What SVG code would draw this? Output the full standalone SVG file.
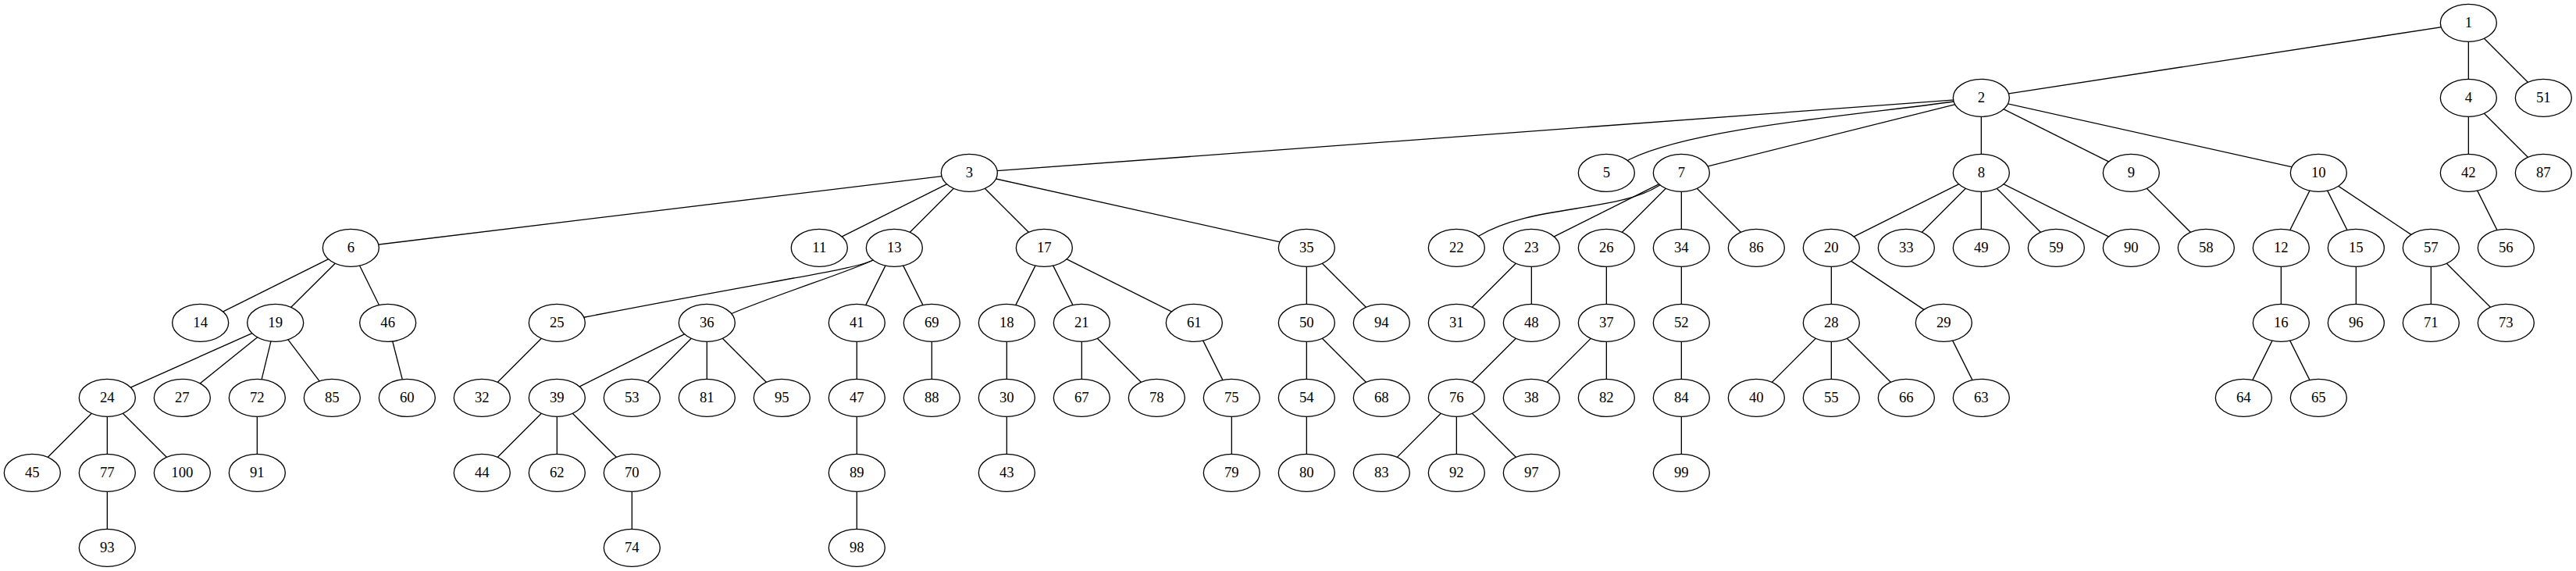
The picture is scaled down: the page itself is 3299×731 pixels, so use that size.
<svg xmlns="http://www.w3.org/2000/svg" width="3299" height="731" viewBox="0 0 3299 731">
<style>
.bg{fill:#fff}
.e line,.e path{stroke:#000;stroke-width:1.33;fill:none}
.n ellipse{fill:#fff;stroke:#000;stroke-width:1.33}
.n text{font-family:"Liberation Serif","Times New Roman",serif;font-size:18.67px;text-anchor:middle;fill:#000}
</style>
<rect class="bg" x="0" y="0" width="3299" height="731"/>
<g id="edges" class="e">
<line x1="3161.33" y1="29.33" x2="2537.33" y2="125.33"/>
<line x1="3161.33" y1="29.33" x2="3161.33" y2="125.33"/>
<line x1="3161.33" y1="29.33" x2="3257.33" y2="125.33"/>
<line x1="2537.33" y1="125.33" x2="1241.33" y2="221.33"/>
<path d="M2537.33,125.33 L2502,130 C2390,146 2170,163 2087,204 L2057.33,221.33"/>
<line x1="2537.33" y1="125.33" x2="2153.33" y2="221.33"/>
<line x1="2537.33" y1="125.33" x2="2537.33" y2="221.33"/>
<line x1="2537.33" y1="125.33" x2="2729.33" y2="221.33"/>
<line x1="2537.33" y1="125.33" x2="2969.33" y2="221.33"/>
<line x1="3161.33" y1="125.33" x2="3161.33" y2="221.33"/>
<line x1="3161.33" y1="125.33" x2="3257.33" y2="221.33"/>
<line x1="1241.33" y1="221.33" x2="449.33" y2="317.33"/>
<line x1="1241.33" y1="221.33" x2="1049.33" y2="317.33"/>
<line x1="1241.33" y1="221.33" x2="1145.33" y2="317.33"/>
<line x1="1241.33" y1="221.33" x2="1337.33" y2="317.33"/>
<line x1="1241.33" y1="221.33" x2="1673.33" y2="317.33"/>
<path d="M2153.33,221.33 L2124,238 C2070,272 1960,262 1894,302 L1865.33,317.33"/>
<line x1="2153.33" y1="221.33" x2="1961.33" y2="317.33"/>
<line x1="2153.33" y1="221.33" x2="2057.33" y2="317.33"/>
<line x1="2153.33" y1="221.33" x2="2153.33" y2="317.33"/>
<line x1="2153.33" y1="221.33" x2="2249.33" y2="317.33"/>
<line x1="2537.33" y1="221.33" x2="2345.33" y2="317.33"/>
<line x1="2537.33" y1="221.33" x2="2441.33" y2="317.33"/>
<line x1="2537.33" y1="221.33" x2="2537.33" y2="317.33"/>
<line x1="2537.33" y1="221.33" x2="2633.33" y2="317.33"/>
<line x1="2537.33" y1="221.33" x2="2729.33" y2="317.33"/>
<line x1="2729.33" y1="221.33" x2="2825.33" y2="317.33"/>
<line x1="2969.33" y1="221.33" x2="2921.33" y2="317.33"/>
<line x1="2969.33" y1="221.33" x2="3017.33" y2="317.33"/>
<line x1="2969.33" y1="221.33" x2="3113.33" y2="317.33"/>
<line x1="3161.33" y1="221.33" x2="3209.33" y2="317.33"/>
<line x1="449.33" y1="317.33" x2="256.67" y2="413.33"/>
<line x1="449.33" y1="317.33" x2="352.67" y2="413.33"/>
<line x1="449.33" y1="317.33" x2="496.67" y2="413.33"/>
<path d="M1145.33,317.33 L1118,333 C1095,345 1000,357 749,406 L713.33,413.33"/>
<path d="M1145.33,317.33 L1118,333 C1090,347 1000,375 938,401 L905.33,413.33"/>
<line x1="1145.33" y1="317.33" x2="1097.33" y2="413.33"/>
<line x1="1145.33" y1="317.33" x2="1193.33" y2="413.33"/>
<line x1="1337.33" y1="317.33" x2="1289.33" y2="413.33"/>
<line x1="1337.33" y1="317.33" x2="1385.33" y2="413.33"/>
<line x1="1337.33" y1="317.33" x2="1529.33" y2="413.33"/>
<line x1="1673.33" y1="317.33" x2="1673.33" y2="413.33"/>
<line x1="1673.33" y1="317.33" x2="1769.33" y2="413.33"/>
<line x1="1961.33" y1="317.33" x2="1865.33" y2="413.33"/>
<line x1="1961.33" y1="317.33" x2="1961.33" y2="413.33"/>
<line x1="2057.33" y1="317.33" x2="2057.33" y2="413.33"/>
<line x1="2153.33" y1="317.33" x2="2153.33" y2="413.33"/>
<line x1="2345.33" y1="317.33" x2="2345.33" y2="413.33"/>
<line x1="2345.33" y1="317.33" x2="2489.33" y2="413.33"/>
<line x1="2921.33" y1="317.33" x2="2921.33" y2="413.33"/>
<line x1="3017.33" y1="317.33" x2="3017.33" y2="413.33"/>
<line x1="3113.33" y1="317.33" x2="3113.33" y2="413.33"/>
<line x1="3113.33" y1="317.33" x2="3209.33" y2="413.33"/>
<line x1="352.67" y1="413.33" x2="137.33" y2="509.33"/>
<line x1="352.67" y1="413.33" x2="233.33" y2="509.33"/>
<line x1="352.67" y1="413.33" x2="329.33" y2="509.33"/>
<line x1="352.67" y1="413.33" x2="425.33" y2="509.33"/>
<line x1="496.67" y1="413.33" x2="521.33" y2="509.33"/>
<line x1="713.33" y1="413.33" x2="617.33" y2="509.33"/>
<line x1="905.33" y1="413.33" x2="713.33" y2="509.33"/>
<line x1="905.33" y1="413.33" x2="809.33" y2="509.33"/>
<line x1="905.33" y1="413.33" x2="905.33" y2="509.33"/>
<line x1="905.33" y1="413.33" x2="1001.33" y2="509.33"/>
<line x1="1097.33" y1="413.33" x2="1097.33" y2="509.33"/>
<line x1="1193.33" y1="413.33" x2="1193.33" y2="509.33"/>
<line x1="1289.33" y1="413.33" x2="1289.33" y2="509.33"/>
<line x1="1385.33" y1="413.33" x2="1385.33" y2="509.33"/>
<line x1="1385.33" y1="413.33" x2="1481.33" y2="509.33"/>
<line x1="1529.33" y1="413.33" x2="1577.33" y2="509.33"/>
<line x1="1673.33" y1="413.33" x2="1673.33" y2="509.33"/>
<line x1="1673.33" y1="413.33" x2="1769.33" y2="509.33"/>
<line x1="1961.33" y1="413.33" x2="1865.33" y2="509.33"/>
<line x1="2057.33" y1="413.33" x2="1961.33" y2="509.33"/>
<line x1="2057.33" y1="413.33" x2="2057.33" y2="509.33"/>
<line x1="2153.33" y1="413.33" x2="2153.33" y2="509.33"/>
<line x1="2345.33" y1="413.33" x2="2249.33" y2="509.33"/>
<line x1="2345.33" y1="413.33" x2="2345.33" y2="509.33"/>
<line x1="2345.33" y1="413.33" x2="2441.33" y2="509.33"/>
<line x1="2489.33" y1="413.33" x2="2537.33" y2="509.33"/>
<line x1="2921.33" y1="413.33" x2="2873.33" y2="509.33"/>
<line x1="2921.33" y1="413.33" x2="2969.33" y2="509.33"/>
<line x1="137.33" y1="509.33" x2="41.33" y2="605.33"/>
<line x1="137.33" y1="509.33" x2="137.33" y2="605.33"/>
<line x1="137.33" y1="509.33" x2="233.33" y2="605.33"/>
<line x1="329.33" y1="509.33" x2="329.33" y2="605.33"/>
<line x1="713.33" y1="509.33" x2="617.33" y2="605.33"/>
<line x1="713.33" y1="509.33" x2="713.33" y2="605.33"/>
<line x1="713.33" y1="509.33" x2="809.33" y2="605.33"/>
<line x1="1097.33" y1="509.33" x2="1097.33" y2="605.33"/>
<line x1="1289.33" y1="509.33" x2="1289.33" y2="605.33"/>
<line x1="1577.33" y1="509.33" x2="1577.33" y2="605.33"/>
<line x1="1673.33" y1="509.33" x2="1673.33" y2="605.33"/>
<line x1="1865.33" y1="509.33" x2="1769.33" y2="605.33"/>
<line x1="1865.33" y1="509.33" x2="1865.33" y2="605.33"/>
<line x1="1865.33" y1="509.33" x2="1961.33" y2="605.33"/>
<line x1="2153.33" y1="509.33" x2="2153.33" y2="605.33"/>
<line x1="137.33" y1="605.33" x2="137.33" y2="701.33"/>
<line x1="809.33" y1="605.33" x2="809.33" y2="701.33"/>
<line x1="1097.33" y1="605.33" x2="1097.33" y2="701.33"/>
</g>
<g class="n">
<g id="node1" transform="translate(3161.33,29.33)"><ellipse rx="36" ry="24"/><text y="5.6">1</text></g>
<g id="node2" transform="translate(2537.33,125.33)"><ellipse rx="36" ry="24"/><text y="5.6">2</text></g>
<g id="node4" transform="translate(3161.33,125.33)"><ellipse rx="36" ry="24"/><text y="5.6">4</text></g>
<g id="node51" transform="translate(3257.33,125.33)"><ellipse rx="36" ry="24"/><text y="5.6">51</text></g>
<g id="node3" transform="translate(1241.33,221.33)"><ellipse rx="36" ry="24"/><text y="5.6">3</text></g>
<g id="node5" transform="translate(2057.33,221.33)"><ellipse rx="36" ry="24"/><text y="5.6">5</text></g>
<g id="node7" transform="translate(2153.33,221.33)"><ellipse rx="36" ry="24"/><text y="5.6">7</text></g>
<g id="node8" transform="translate(2537.33,221.33)"><ellipse rx="36" ry="24"/><text y="5.6">8</text></g>
<g id="node9" transform="translate(2729.33,221.33)"><ellipse rx="36" ry="24"/><text y="5.6">9</text></g>
<g id="node10" transform="translate(2969.33,221.33)"><ellipse rx="36" ry="24"/><text y="5.6">10</text></g>
<g id="node42" transform="translate(3161.33,221.33)"><ellipse rx="36" ry="24"/><text y="5.6">42</text></g>
<g id="node87" transform="translate(3257.33,221.33)"><ellipse rx="36" ry="24"/><text y="5.6">87</text></g>
<g id="node6" transform="translate(449.33,317.33)"><ellipse rx="36" ry="24"/><text y="5.6">6</text></g>
<g id="node11" transform="translate(1049.33,317.33)"><ellipse rx="36" ry="24"/><text y="5.6">11</text></g>
<g id="node13" transform="translate(1145.33,317.33)"><ellipse rx="36" ry="24"/><text y="5.6">13</text></g>
<g id="node17" transform="translate(1337.33,317.33)"><ellipse rx="36" ry="24"/><text y="5.6">17</text></g>
<g id="node35" transform="translate(1673.33,317.33)"><ellipse rx="36" ry="24"/><text y="5.6">35</text></g>
<g id="node22" transform="translate(1865.33,317.33)"><ellipse rx="36" ry="24"/><text y="5.6">22</text></g>
<g id="node23" transform="translate(1961.33,317.33)"><ellipse rx="36" ry="24"/><text y="5.6">23</text></g>
<g id="node26" transform="translate(2057.33,317.33)"><ellipse rx="36" ry="24"/><text y="5.6">26</text></g>
<g id="node34" transform="translate(2153.33,317.33)"><ellipse rx="36" ry="24"/><text y="5.6">34</text></g>
<g id="node86" transform="translate(2249.33,317.33)"><ellipse rx="36" ry="24"/><text y="5.6">86</text></g>
<g id="node20" transform="translate(2345.33,317.33)"><ellipse rx="36" ry="24"/><text y="5.6">20</text></g>
<g id="node33" transform="translate(2441.33,317.33)"><ellipse rx="36" ry="24"/><text y="5.6">33</text></g>
<g id="node49" transform="translate(2537.33,317.33)"><ellipse rx="36" ry="24"/><text y="5.6">49</text></g>
<g id="node59" transform="translate(2633.33,317.33)"><ellipse rx="36" ry="24"/><text y="5.6">59</text></g>
<g id="node90" transform="translate(2729.33,317.33)"><ellipse rx="36" ry="24"/><text y="5.6">90</text></g>
<g id="node58" transform="translate(2825.33,317.33)"><ellipse rx="36" ry="24"/><text y="5.6">58</text></g>
<g id="node12" transform="translate(2921.33,317.33)"><ellipse rx="36" ry="24"/><text y="5.6">12</text></g>
<g id="node15" transform="translate(3017.33,317.33)"><ellipse rx="36" ry="24"/><text y="5.6">15</text></g>
<g id="node57" transform="translate(3113.33,317.33)"><ellipse rx="36" ry="24"/><text y="5.6">57</text></g>
<g id="node56" transform="translate(3209.33,317.33)"><ellipse rx="36" ry="24"/><text y="5.6">56</text></g>
<g id="node14" transform="translate(256.67,413.33)"><ellipse rx="36" ry="24"/><text y="5.6">14</text></g>
<g id="node19" transform="translate(352.67,413.33)"><ellipse rx="36" ry="24"/><text y="5.6">19</text></g>
<g id="node46" transform="translate(496.67,413.33)"><ellipse rx="36" ry="24"/><text y="5.6">46</text></g>
<g id="node25" transform="translate(713.33,413.33)"><ellipse rx="36" ry="24"/><text y="5.6">25</text></g>
<g id="node36" transform="translate(905.33,413.33)"><ellipse rx="36" ry="24"/><text y="5.6">36</text></g>
<g id="node41" transform="translate(1097.33,413.33)"><ellipse rx="36" ry="24"/><text y="5.6">41</text></g>
<g id="node69" transform="translate(1193.33,413.33)"><ellipse rx="36" ry="24"/><text y="5.6">69</text></g>
<g id="node18" transform="translate(1289.33,413.33)"><ellipse rx="36" ry="24"/><text y="5.6">18</text></g>
<g id="node21" transform="translate(1385.33,413.33)"><ellipse rx="36" ry="24"/><text y="5.6">21</text></g>
<g id="node61" transform="translate(1529.33,413.33)"><ellipse rx="36" ry="24"/><text y="5.6">61</text></g>
<g id="node50" transform="translate(1673.33,413.33)"><ellipse rx="36" ry="24"/><text y="5.6">50</text></g>
<g id="node94" transform="translate(1769.33,413.33)"><ellipse rx="36" ry="24"/><text y="5.6">94</text></g>
<g id="node31" transform="translate(1865.33,413.33)"><ellipse rx="36" ry="24"/><text y="5.6">31</text></g>
<g id="node48" transform="translate(1961.33,413.33)"><ellipse rx="36" ry="24"/><text y="5.6">48</text></g>
<g id="node37" transform="translate(2057.33,413.33)"><ellipse rx="36" ry="24"/><text y="5.6">37</text></g>
<g id="node52" transform="translate(2153.33,413.33)"><ellipse rx="36" ry="24"/><text y="5.6">52</text></g>
<g id="node28" transform="translate(2345.33,413.33)"><ellipse rx="36" ry="24"/><text y="5.6">28</text></g>
<g id="node29" transform="translate(2489.33,413.33)"><ellipse rx="36" ry="24"/><text y="5.6">29</text></g>
<g id="node16" transform="translate(2921.33,413.33)"><ellipse rx="36" ry="24"/><text y="5.6">16</text></g>
<g id="node96" transform="translate(3017.33,413.33)"><ellipse rx="36" ry="24"/><text y="5.6">96</text></g>
<g id="node71" transform="translate(3113.33,413.33)"><ellipse rx="36" ry="24"/><text y="5.6">71</text></g>
<g id="node73" transform="translate(3209.33,413.33)"><ellipse rx="36" ry="24"/><text y="5.6">73</text></g>
<g id="node24" transform="translate(137.33,509.33)"><ellipse rx="36" ry="24"/><text y="5.6">24</text></g>
<g id="node27" transform="translate(233.33,509.33)"><ellipse rx="36" ry="24"/><text y="5.6">27</text></g>
<g id="node72" transform="translate(329.33,509.33)"><ellipse rx="36" ry="24"/><text y="5.6">72</text></g>
<g id="node85" transform="translate(425.33,509.33)"><ellipse rx="36" ry="24"/><text y="5.6">85</text></g>
<g id="node60" transform="translate(521.33,509.33)"><ellipse rx="36" ry="24"/><text y="5.6">60</text></g>
<g id="node32" transform="translate(617.33,509.33)"><ellipse rx="36" ry="24"/><text y="5.6">32</text></g>
<g id="node39" transform="translate(713.33,509.33)"><ellipse rx="36" ry="24"/><text y="5.6">39</text></g>
<g id="node53" transform="translate(809.33,509.33)"><ellipse rx="36" ry="24"/><text y="5.6">53</text></g>
<g id="node81" transform="translate(905.33,509.33)"><ellipse rx="36" ry="24"/><text y="5.6">81</text></g>
<g id="node95" transform="translate(1001.33,509.33)"><ellipse rx="36" ry="24"/><text y="5.6">95</text></g>
<g id="node47" transform="translate(1097.33,509.33)"><ellipse rx="36" ry="24"/><text y="5.6">47</text></g>
<g id="node88" transform="translate(1193.33,509.33)"><ellipse rx="36" ry="24"/><text y="5.6">88</text></g>
<g id="node30" transform="translate(1289.33,509.33)"><ellipse rx="36" ry="24"/><text y="5.6">30</text></g>
<g id="node67" transform="translate(1385.33,509.33)"><ellipse rx="36" ry="24"/><text y="5.6">67</text></g>
<g id="node78" transform="translate(1481.33,509.33)"><ellipse rx="36" ry="24"/><text y="5.6">78</text></g>
<g id="node75" transform="translate(1577.33,509.33)"><ellipse rx="36" ry="24"/><text y="5.6">75</text></g>
<g id="node54" transform="translate(1673.33,509.33)"><ellipse rx="36" ry="24"/><text y="5.6">54</text></g>
<g id="node68" transform="translate(1769.33,509.33)"><ellipse rx="36" ry="24"/><text y="5.6">68</text></g>
<g id="node76" transform="translate(1865.33,509.33)"><ellipse rx="36" ry="24"/><text y="5.6">76</text></g>
<g id="node38" transform="translate(1961.33,509.33)"><ellipse rx="36" ry="24"/><text y="5.6">38</text></g>
<g id="node82" transform="translate(2057.33,509.33)"><ellipse rx="36" ry="24"/><text y="5.6">82</text></g>
<g id="node84" transform="translate(2153.33,509.33)"><ellipse rx="36" ry="24"/><text y="5.6">84</text></g>
<g id="node40" transform="translate(2249.33,509.33)"><ellipse rx="36" ry="24"/><text y="5.6">40</text></g>
<g id="node55" transform="translate(2345.33,509.33)"><ellipse rx="36" ry="24"/><text y="5.6">55</text></g>
<g id="node66" transform="translate(2441.33,509.33)"><ellipse rx="36" ry="24"/><text y="5.6">66</text></g>
<g id="node63" transform="translate(2537.33,509.33)"><ellipse rx="36" ry="24"/><text y="5.6">63</text></g>
<g id="node64" transform="translate(2873.33,509.33)"><ellipse rx="36" ry="24"/><text y="5.6">64</text></g>
<g id="node65" transform="translate(2969.33,509.33)"><ellipse rx="36" ry="24"/><text y="5.6">65</text></g>
<g id="node45" transform="translate(41.33,605.33)"><ellipse rx="36" ry="24"/><text y="5.6">45</text></g>
<g id="node77" transform="translate(137.33,605.33)"><ellipse rx="36" ry="24"/><text y="5.6">77</text></g>
<g id="node100" transform="translate(233.33,605.33)"><ellipse rx="36" ry="24"/><text y="5.6">100</text></g>
<g id="node91" transform="translate(329.33,605.33)"><ellipse rx="36" ry="24"/><text y="5.6">91</text></g>
<g id="node44" transform="translate(617.33,605.33)"><ellipse rx="36" ry="24"/><text y="5.6">44</text></g>
<g id="node62" transform="translate(713.33,605.33)"><ellipse rx="36" ry="24"/><text y="5.6">62</text></g>
<g id="node70" transform="translate(809.33,605.33)"><ellipse rx="36" ry="24"/><text y="5.6">70</text></g>
<g id="node89" transform="translate(1097.33,605.33)"><ellipse rx="36" ry="24"/><text y="5.6">89</text></g>
<g id="node43" transform="translate(1289.33,605.33)"><ellipse rx="36" ry="24"/><text y="5.6">43</text></g>
<g id="node79" transform="translate(1577.33,605.33)"><ellipse rx="36" ry="24"/><text y="5.6">79</text></g>
<g id="node80" transform="translate(1673.33,605.33)"><ellipse rx="36" ry="24"/><text y="5.6">80</text></g>
<g id="node83" transform="translate(1769.33,605.33)"><ellipse rx="36" ry="24"/><text y="5.6">83</text></g>
<g id="node92" transform="translate(1865.33,605.33)"><ellipse rx="36" ry="24"/><text y="5.6">92</text></g>
<g id="node97" transform="translate(1961.33,605.33)"><ellipse rx="36" ry="24"/><text y="5.6">97</text></g>
<g id="node99" transform="translate(2153.33,605.33)"><ellipse rx="36" ry="24"/><text y="5.6">99</text></g>
<g id="node93" transform="translate(137.33,701.33)"><ellipse rx="36" ry="24"/><text y="5.6">93</text></g>
<g id="node74" transform="translate(809.33,701.33)"><ellipse rx="36" ry="24"/><text y="5.6">74</text></g>
<g id="node98" transform="translate(1097.33,701.33)"><ellipse rx="36" ry="24"/><text y="5.6">98</text></g>
</g>
</svg>
